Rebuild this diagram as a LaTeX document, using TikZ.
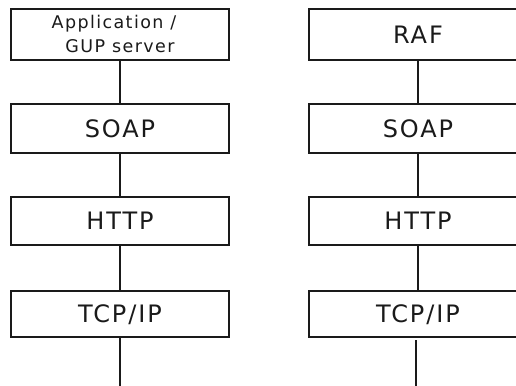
\documentclass[tikz,border=0pt]{standalone}
\usepackage{fontspec}
\setmainfont{DejaVu Sans}
\newfontfamily\boxfont[LetterSpace=8]{DejaVu Sans}
\definecolor{ink}{HTML}{1A1A1A}
\begin{document}
\begin{tikzpicture}[x=1pt,y=-1pt,
  layer/.style={draw=ink, line width=2pt, rectangle, inner sep=0pt,
    minimum width=218pt, text=ink, font=\boxfont\fontsize{24}{28}\selectfont,
    text height=17.5pt, text depth=0pt},
  link/.style={draw=ink, line width=2pt}]
\useasboundingbox (0,0) rectangle (516,385);
\clip (0,0) rectangle (516,385);
% left stack
\node[layer, minimum height=51pt, align=center,
  font=\boxfont\fontsize{17.5}{24}\selectfont, text height=36.6pt] (la) at (120,34.5)
  {Application /\kern12pt\\GUP server};
\node[layer, minimum height=49pt] (ls) at (120,128.5) {SOAP};
\node[layer, minimum height=48pt] (lh) at (120,221) {HTTP};
\node[layer, minimum height=46pt] (lt) at (120,314) {TCP/IP};
\coordinate (lend) at (120,392);
% right stack
\node[layer, minimum height=51pt] (ra) at (418,34.5) {RAF};
\node[layer, minimum height=49pt] (rs) at (418,128.5) {SOAP};
\node[layer, minimum height=48pt] (rh) at (418,221) {HTTP};
\node[layer, minimum height=46pt] (rt) at (418,314) {TCP/IP};
\coordinate (rstart) at (416,340);
\coordinate (rend) at (416,392);
% connectors
\draw[link] (la) -- (ls);
\draw[link] (ls) -- (lh);
\draw[link] (lh) -- (lt);
\draw[link] (lt) -- (lend);
\draw[link] (ra) -- (rs);
\draw[link] (rs) -- (rh);
\draw[link] (rh) -- (rt);
\draw[link] (rstart) -- (rend);
\end{tikzpicture}
\end{document}
